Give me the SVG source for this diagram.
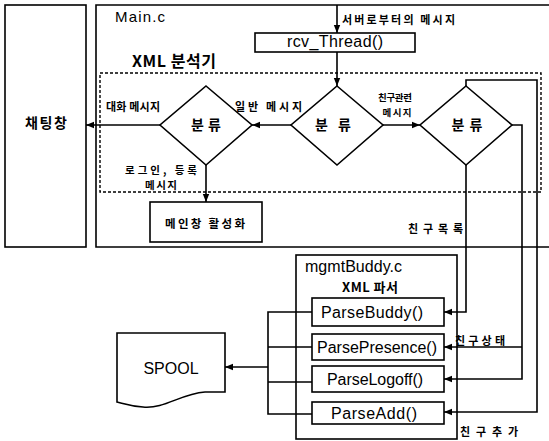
<svg xmlns="http://www.w3.org/2000/svg" width="549" height="441" viewBox="0 0 549 441">
<style>
.ln{fill:none;stroke:#000;stroke-width:1.6}
.bx{fill:#fff;stroke:#000;stroke-width:1.6}
.ds{fill:none;stroke:#000;stroke-width:1.4;stroke-dasharray:3 2}
.k{font-family:"Noto Sans CJK KR","Noto Sans",sans-serif;font-weight:bold;fill:#000}
.e{font-family:"Liberation Sans",Arial,sans-serif;fill:#000}
</style>
<defs>
<marker id="ah" viewBox="0 0 8 8" refX="8" refY="4" markerWidth="8" markerHeight="8" markerUnits="userSpaceOnUse" orient="auto">
<path d="M0,0.8 L8,4 L0,7.2 Z" fill="#000"/>
</marker>
</defs>
<rect width="549" height="441" fill="#fff"/>

<g id="main-frame">
<path class="ln" d="M549,5 H96 V247 H549"/>
<text class="e" x="115" y="22" font-size="15" textLength="50">Main.c</text>
</g>

<g id="chat-window">
<rect class="bx" x="5" y="5" width="81" height="242"/>
<text class="k" x="46" y="128" font-size="14" text-anchor="middle" textLength="42">채팅창</text>
</g>

<g id="xml-analyzer">
<rect class="ds" x="100" y="73" width="441" height="119"/>
<text class="k" x="132" y="67" font-size="16" textLength="84">XML 분석기</text>
</g>

<g id="rcv-thread">
<rect class="bx" x="255" y="33" width="160" height="19"/>
<text class="e" x="335" y="47" font-size="16" text-anchor="middle" textLength="96">rcv_Thread()</text>
</g>

<g id="classify-center">
<path class="bx" d="M337,86 L383,125 L337,165 L291,125 Z"/>
<text class="k" x="333" y="130" font-size="14" text-anchor="middle" textLength="36">분류</text>
</g>

<g id="classify-left">
<path class="bx" d="M206,86 L252,125 L206,165 L160,125 Z"/>
<text class="k" x="206" y="130" font-size="14" text-anchor="middle" textLength="30">분류</text>
</g>

<g id="classify-right">
<path class="bx" d="M466,86 L512,125 L466,165 L420,125 Z"/>
<text class="k" x="467" y="130" font-size="14" text-anchor="middle" textLength="31">분류</text>
</g>

<g id="main-window-activate">
<rect class="bx" x="150" y="202" width="112" height="40"/>
<text class="k" x="205" y="228" font-size="11.5" text-anchor="middle" textLength="80">메인창 활성화</text>
</g>

<g id="mgmt-buddy">
<rect class="bx" x="296" y="255" width="161" height="184"/>
<text class="e" x="305" y="272" font-size="16" textLength="97">mgmtBuddy.c</text>
<text class="k" x="370" y="292" font-size="13" text-anchor="middle" textLength="56">XML 파서</text>
</g>

<g id="parse-buddy">
<rect class="bx" x="312" y="298" width="132" height="28"/>
<text class="e" x="372" y="318" font-size="16" text-anchor="middle" textLength="102">ParseBuddy()</text>
</g>

<g id="parse-presence">
<rect class="bx" x="312" y="334" width="132" height="26"/>
<text class="e" x="377" y="353" font-size="16" text-anchor="middle" textLength="120">ParsePresence()</text>
</g>

<g id="parse-logoff">
<rect class="bx" x="312" y="366" width="132" height="26"/>
<text class="e" x="375" y="385" font-size="16" text-anchor="middle" textLength="96">ParseLogoff()</text>
</g>

<g id="parse-add">
<rect class="bx" x="312" y="402" width="132" height="22"/>
<text class="e" x="374" y="419" font-size="16" text-anchor="middle" textLength="86">ParseAdd()</text>
</g>

<g id="spool">
<path class="bx" d="M117,333 H225 V392 H205 C180,394 165,409 143,407 C130,406 122,403 117,402 Z"/>
<text class="e" x="171" y="374" font-size="16" text-anchor="middle">SPOOL</text>
</g>

<g id="connectors">
<path class="ln" d="M337,5 V33" marker-end="url(#ah)"/>
<path class="ln" d="M337,52 V86" marker-end="url(#ah)"/>
<path class="ln" d="M291,125 H252" marker-end="url(#ah)"/>
<path class="ln" d="M160,125 H86" marker-end="url(#ah)"/>
<path class="ln" d="M383,125 H420" marker-end="url(#ah)"/>
<path class="ln" d="M206,165 V202" marker-end="url(#ah)"/>
<path class="ln" d="M466,86 V80 H537 V412 H444" marker-end="url(#ah)"/>
<path class="ln" d="M512,125 H522 V379 H444" marker-end="url(#ah)"/>
<path class="ln" d="M522,347 H444" marker-end="url(#ah)"/>
<path class="ln" d="M466,165 V312 H444" marker-end="url(#ah)"/>
<path class="ln" d="M312,312 H268 V414 H312 M268,347 H312 M268,382 H312"/>
<path class="ln" d="M268,367 H225" marker-end="url(#ah)"/>
</g>

<g id="labels">
<text class="k" x="342" y="24" font-size="11" textLength="113">서버로부터의 메시지</text>
<text class="k" x="106" y="111" font-size="11" textLength="54">대화 메시지</text>
<text class="k" x="235" y="111" font-size="11" textLength="67">일반 메시지</text>
<text class="k" x="395" y="101" font-size="9.5" text-anchor="middle" textLength="34">친구관련</text>
<text class="k" x="397" y="116" font-size="9.5" text-anchor="middle" textLength="29">메시지</text>
<text class="k" x="161" y="174" font-size="10.5" text-anchor="middle" textLength="72">로그인, 등록</text>
<text class="k" x="161" y="189" font-size="10.5" text-anchor="middle" textLength="32">메시지</text>
<text class="k" x="408" y="233" font-size="11" textLength="55">친구목록</text>
<text class="k" x="455" y="345" font-size="11" textLength="50">친구상태</text>
<text class="k" x="460" y="436" font-size="11" textLength="58">친구추가</text>
</g>
</svg>
